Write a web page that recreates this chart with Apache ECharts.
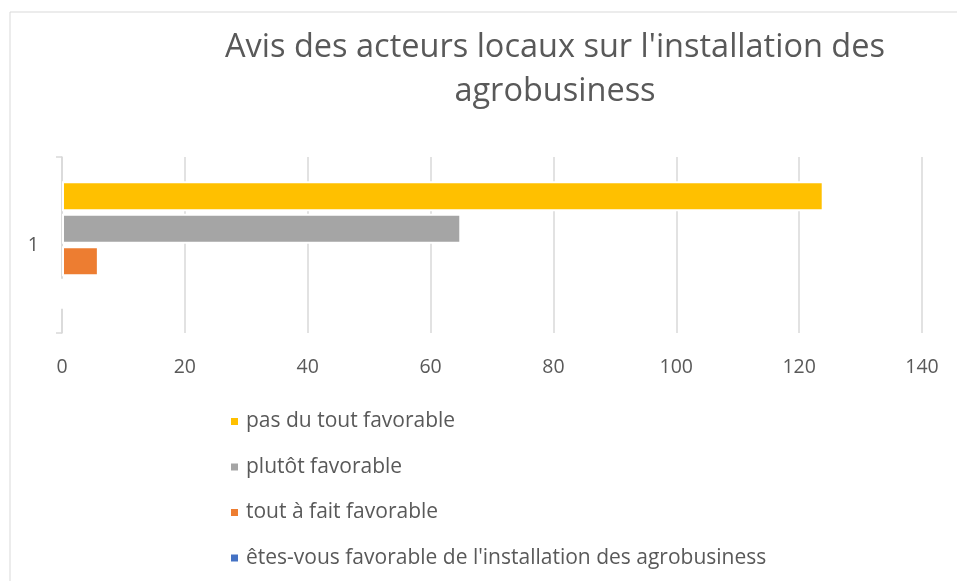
<!DOCTYPE html>
<html>
<head>
<meta charset="utf-8">
<script src="https://cdn.jsdelivr.net/npm/echarts@6/dist/echarts.min.js"></script>
<style>
  html, body { margin: 0; padding: 0; background: #fff; }
  #chart { width: 957px; height: 581px; }
</style>
</head>
<body>
<div id="chart"></div>
<script>
// data (top bar first)
const categories = ['1'];
const seriesNames = [
    'pas du tout favorable',
    'plutôt favorable',
    'tout à fait favorable',
    "êtes-vous favorable de l'installation des agrobusiness"
];
const seriesColors = ['#ffc000', '#a5a5a5', '#ed7d31', '#4472c4'];
const valuesPasDuTout = [124];
const valuesPlutot = [65];
const valuesToutAFait = [6];
const valuesFavorableQuestion = [0];
const xTicks = [0, 20, 40, 60, 80, 100, 120, 140];

const allValues = [valuesPasDuTout, valuesPlutot, valuesToutAFait, valuesFavorableQuestion];
const textColor = '#595959';
const font = '"Open Sans", sans-serif';

let chart = echarts.init(document.getElementById('chart'));

const options = {
    animation: false,
    graphic: [{
        type: 'rect',
        shape: {x: 10, y: 12, width: 960, height: 600},
        style: {fill: 'none', stroke: '#d9d9d9', lineWidth: 1}
    }],
    title: {
        text: "Avis des acteurs locaux sur l'installation des\nagrobusiness",
        left: 550,
        top: 21,
        textAlign: 'center',
        textStyle: {
            fontFamily: font,
            fontSize: 32.5,
            fontWeight: 'normal',
            color: textColor,
            lineHeight: 44
        }
    },
    legend: {
        orient: 'vertical',
        left: 224,
        top: 406,
        itemGap: 24.5,
        itemWidth: 9,
        itemHeight: 9,
        icon: 'rect',
        data: seriesNames,
        textStyle: {
            fontFamily: font,
            fontSize: 21,
            color: textColor,
            padding: [0, 0, 0, 2]
        }
    },
    grid: {
        left: 62,
        right: 35,
        top: 157,
        bottom: 248
    },
    xAxis: {
        type: 'value',
        min: xTicks[0],
        max: xTicks[xTicks.length - 1],
        interval: xTicks[1] - xTicks[0],
        axisLine: {show: false},
        axisTick: {show: false},
        axisLabel: {
            fontFamily: font,
            fontSize: 19.5,
            color: textColor,
            margin: 24
        },
        splitLine: {
            lineStyle: {color: '#d9d9d9', width: 1.5}
        }
    },
    yAxis: {
        type: 'category',
        data: categories,
        inverse: true,
        axisLine: {
            show: true,
            lineStyle: {color: '#d9d9d9', width: 1.5}
        },
        axisTick: {
            show: true,
            length: 6,
            lineStyle: {color: '#d9d9d9', width: 1.5}
        },
        axisLabel: {
            fontFamily: font,
            fontSize: 19.5,
            color: textColor,
            margin: 23
        }
    },
    series: seriesNames.map((name, i) => ({
        name: name,
        type: 'bar',
        data: allValues[i],
        barCategoryGap: '27.5%',
        barGap: '8%',
        itemStyle: {
            color: seriesColors[i],
            borderColor: '#fff',
            borderWidth: 2
        }
    }))
};

chart.setOption(options);
</script>
</body>
</html>
